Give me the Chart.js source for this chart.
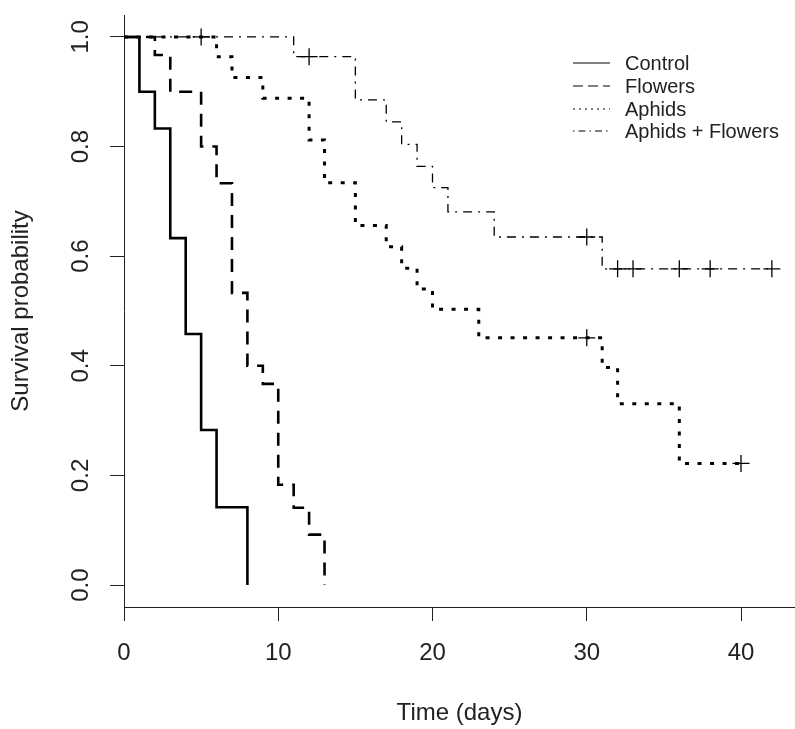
<!DOCTYPE html>
<html>
<head>
  <meta charset="UTF-8">
  <title>Survival curves</title>
  <script src="https://cdn.jsdelivr.net/npm/chart.js"></script>
  <style>
    body { margin: 0; background: #fff; }
    #wrap { width: 795px; height: 729px; }
  </style>
</head>
<body>
  <div id="wrap">
    <canvas id="survChart" width="795" height="729"></canvas>
  </div>

  <script>
    // Kaplan-Meier steps (time in days, survival probability)
    const controlTime = [0, 1, 2, 3, 4, 5, 6, 8];
    const controlSurv = [1, 0.9, 0.833, 0.633, 0.458, 0.283, 0.142, 0];

    const flowersTime = [0, 2, 3, 5, 6, 7, 8, 9, 10, 11, 12, 13];
    const flowersSurv = [1, 0.967, 0.9, 0.8, 0.733, 0.533, 0.4, 0.367, 0.183, 0.141, 0.092, 0];

    const aphidsTime = [0, 6, 7, 9, 12, 13, 15, 17, 18, 19, 20, 23, 31, 32, 36, 40];
    const aphidsSurv = [1, 0.964, 0.926, 0.888, 0.812, 0.734, 0.656, 0.617, 0.578, 0.54, 0.503, 0.451, 0.397, 0.331, 0.222, 0.222];

    const afTime = [0, 11, 15, 17, 18, 19, 20, 21, 24, 31, 42];
    const afSurv = [1, 0.964, 0.885, 0.845, 0.804, 0.764, 0.725, 0.681, 0.635, 0.577, 0.577];

    // censored observations (+ marks)
    const aphidsCensTime = [30, 40];
    const aphidsCensSurv = [0.451, 0.222];
    const afCensTime = [5, 12, 30, 32, 33, 36, 38, 42];
    const afCensSurv = [1, 0.964, 0.635, 0.577, 0.577, 0.577, 0.577, 0.577];

    const groupLabels = ['Control', 'Flowers', 'Aphids', 'Aphids + Flowers'];
    const xTicks = [0, 10, 20, 30, 40];
    const yTicks = [0, 0.2, 0.4, 0.6, 0.8, 1.0];

    const FONT = '"Liberation Sans", Arial, sans-serif';
    const INK = '#222';

    // line styles (thick curves in plot, thin ones in legend)
    const curveDash = [[], [13, 9], [4, 8.5], [2, 6, 9, 6]];
    const curveWidth = [2.6, 2.6, 3, 1.3];
    const legendDash = [[], [10, 5], [2, 4], [1.5, 4, 7, 4]];

    function pts(xs, ys) {
      return xs.map((x, i) => ({ x: x, y: ys[i] }));
    }

    function curve(label, xs, ys, k) {
      return {
        label: label,
        data: pts(xs, ys),
        stepped: 'before',
        borderColor: '#000',
        borderWidth: curveWidth[k],
        borderDash: curveDash[k],
        borderCapStyle: 'butt',
        pointRadius: 0,
        fill: false
      };
    }

    function censMarks(label, xs, ys) {
      return {
        label: label,
        data: pts(xs, ys),
        showLine: false,
        pointStyle: 'cross',
        pointRadius: 8.5,
        pointBorderWidth: 1.3,
        borderColor: '#000',
        backgroundColor: '#000'
      };
    }

    // no extra room for edge labels: the plot box is fixed
    function noPad(s) {
      s.paddingLeft = 0;
      s.paddingRight = 0;
      s.paddingTop = 0;
      s.paddingBottom = 0;
    }

    // simple R-style legend in the top right of the plot
    const rLegend = {
      id: 'rLegend',
      afterDraw(chart) {
        const ctx = chart.ctx;
        const rowY = [63, 86, 109, 131];
        ctx.save();
        for (let i = 0; i < groupLabels.length; i++) {
          ctx.beginPath();
          ctx.setLineDash(legendDash[i]);
          ctx.lineWidth = 1.2;
          ctx.strokeStyle = '#000';
          ctx.moveTo(573, rowY[i]);
          ctx.lineTo(610, rowY[i]);
          ctx.stroke();
          ctx.setLineDash([]);
          ctx.fillStyle = INK;
          ctx.font = '20px ' + FONT;
          ctx.textBaseline = 'middle';
          ctx.textAlign = 'left';
          ctx.fillText(groupLabels[i], 625, rowY[i] + 1);
        }
        ctx.restore();
      }
    };

    const survChart = new Chart(document.getElementById('survChart').getContext('2d'), {
      type: 'line',
      data: {
        datasets: [
          curve(groupLabels[0], controlTime, controlSurv, 0),
          curve(groupLabels[1], flowersTime, flowersSurv, 1),
          curve(groupLabels[2], aphidsTime, aphidsSurv, 2),
          curve(groupLabels[3], afTime, afSurv, 3),
          censMarks('Aphids censored', aphidsCensTime, aphidsCensSurv),
          censMarks('Aphids + Flowers censored', afCensTime, afCensSurv)
        ]
      },
      options: {
        responsive: false,
        animation: false,
        layout: { autoPadding: false, padding: { top: 15, right: 0, left: 0, bottom: 0 } },
        plugins: {
          legend: { display: false },
          tooltip: { enabled: false }
        },
        scales: {
          x: {
            type: 'linear',
            position: 'bottom',
            min: 0,
            max: 43.5,
            afterBuildTicks: (s) => { s.ticks = xTicks.map(v => ({ value: v })); },
            afterFit: (s) => { s.height = 122; noPad(s); },
            grid: { drawOnChartArea: false, drawTicks: true, tickLength: 14, tickColor: INK, tickWidth: 1 },
            border: { display: true, color: INK, width: 1 },
            ticks: { font: { size: 24, family: FONT }, color: INK, padding: 18, maxRotation: 0 },
            title: { display: true, text: 'Time (days)', font: { size: 24, family: FONT }, color: INK, padding: { top: 0, bottom: 1 } }
          },
          y: {
            type: 'linear',
            position: 'left',
            min: -0.04,
            max: 1.04,
            afterBuildTicks: (s) => { s.ticks = yTicks.map(v => ({ value: v })); },
            afterFit: (s) => { s.width = 124; noPad(s); },
            grid: { drawOnChartArea: false, drawTicks: true, tickLength: 14, tickColor: INK, tickWidth: 1 },
            border: { display: true, color: INK, width: 1 },
            ticks: {
              font: { size: 24, family: FONT },
              color: INK,
              padding: 12,
              minRotation: 90,
              maxRotation: 90,
              crossAlign: 'center',
              callback: (v) => Number(v).toFixed(1)
            },
            title: { display: true, text: 'Survival probability', font: { size: 24, family: FONT }, color: INK, padding: { top: 7, bottom: 0 } }
          }
        }
      },
      plugins: [rLegend]
    });
  </script>
</body>
</html>
